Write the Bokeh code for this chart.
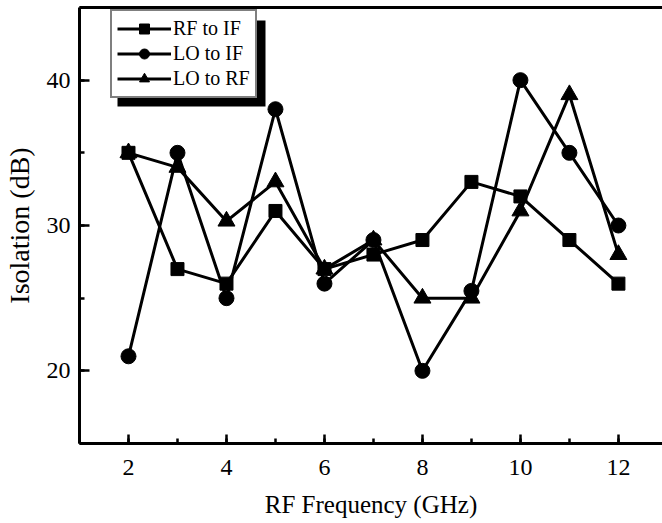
from bokeh.plotting import figure
from bokeh.models import (Legend, LegendItem, LinearAxis, SingleIntervalTicker,
                          FixedTicker, Range1d, BoxAnnotation)
from bokeh.embed import file_html
from bokeh.resources import INLINE

freq = [2, 3, 4, 5, 6, 7, 8, 9, 10, 11, 12]
rf_to_if = [35, 27, 26, 31, 27, 28, 29, 33, 32, 29, 26]
lo_to_if = [21, 35, 25, 38, 26, 29, 20, 25.5, 40, 35, 30]
lo_to_rf = [35, 34, 30.3, 33, 27, 29, 25, 25, 31, 39, 28]
labels = ["RF to IF", "LO to IF", "LO to RF"]

FONT = "Liberation Serif"

p = figure(width=662, height=522, output_backend="svg", toolbar_location=None,
           x_range=Range1d(1, 12.9), y_range=Range1d(15, 45),
           min_border_left=79, min_border_right=0, min_border_top=7,
           min_border_bottom=79)
p.outline_line_color = None
p.grid.grid_line_color = None
p.background_fill_color = "white"
p.border_fill_color = "white"

r1l = p.line(freq, rf_to_if, line_color="black", line_width=3)
r1m = p.scatter(freq, rf_to_if, marker="square", size=13, color="black")
r2l = p.line(freq, lo_to_if, line_color="black", line_width=3)
r2m = p.scatter(freq, lo_to_if, marker="circle", size=15, color="black")
r3l = p.line(freq, lo_to_rf, line_color="black", line_width=3)
r3m = p.scatter(freq, lo_to_rf, marker="triangle", size=17, color="black")

# axes
xa = p.xaxis[0]
xa.ticker = SingleIntervalTicker(interval=2, num_minor_ticks=2)
ya = p.yaxis[0]
ya.ticker = SingleIntervalTicker(interval=10, num_minor_ticks=2)
for ax in (xa, ya):
    ax.axis_line_width = 3
    ax.axis_line_color = "black"
    ax.major_tick_line_width = 2.5
    ax.minor_tick_line_width = 2.5
    ax.major_tick_line_color = "black"
    ax.minor_tick_line_color = "black"
    ax.major_tick_out = 0
    ax.minor_tick_out = 0
    ax.major_label_text_font = FONT
    ax.major_label_text_font_size = "24px"
    ax.major_label_text_color = "black"
    ax.axis_label_text_font = FONT
    ax.axis_label_text_font_style = "normal"
    ax.axis_label_text_color = "black"
xa.major_tick_in = 9
xa.minor_tick_in = 5
ya.major_tick_in = 10
ya.minor_tick_in = 5
xa.axis_label = "RF Frequency (GHz)"
xa.axis_label_text_font_size = "25px"
xa.major_label_standoff = 16
xa.axis_label_standoff = 13
ya.axis_label = "Isolation (dB)"
ya.axis_label_text_font_size = "28px"
ya.major_label_standoff = 9
ya.axis_label_standoff = 9

top = LinearAxis(ticker=FixedTicker(ticks=[]), axis_line_width=3,
                 axis_line_color="black", major_tick_line_color=None,
                 minor_tick_line_color=None, major_tick_out=0, minor_tick_out=0,
                 major_label_standoff=0)
p.add_layout(top, "above")

# legend drop shadow (decoration, canvas pixels)
shadow = BoxAnnotation(left=117, right=265, top=20, bottom=106,
                       left_units="canvas", right_units="canvas",
                       top_units="canvas", bottom_units="canvas",
                       fill_color="black", fill_alpha=1.0, line_color=None)
p.add_layout(shadow)

items = [LegendItem(label=labels[0], renderers=[r1l, r1m]),
         LegendItem(label=labels[1], renderers=[r2l, r2m]),
         LegendItem(label=labels[2], renderers=[r3l, r3m])]
legend = Legend(items=items, location=(31, 345), background_fill_color="white",
                background_fill_alpha=1.0, border_line_color="black",
                border_line_width=2, label_text_font=FONT,
                label_text_font_size="20px", label_text_color="black",
                label_text_line_height=1.0,
                glyph_width=54, glyph_height=25, label_height=25,
                label_standoff=2, spacing=0, padding=5, margin=0)
p.add_layout(legend, "center")

open("out.html", "w").write(file_html(p, INLINE))
